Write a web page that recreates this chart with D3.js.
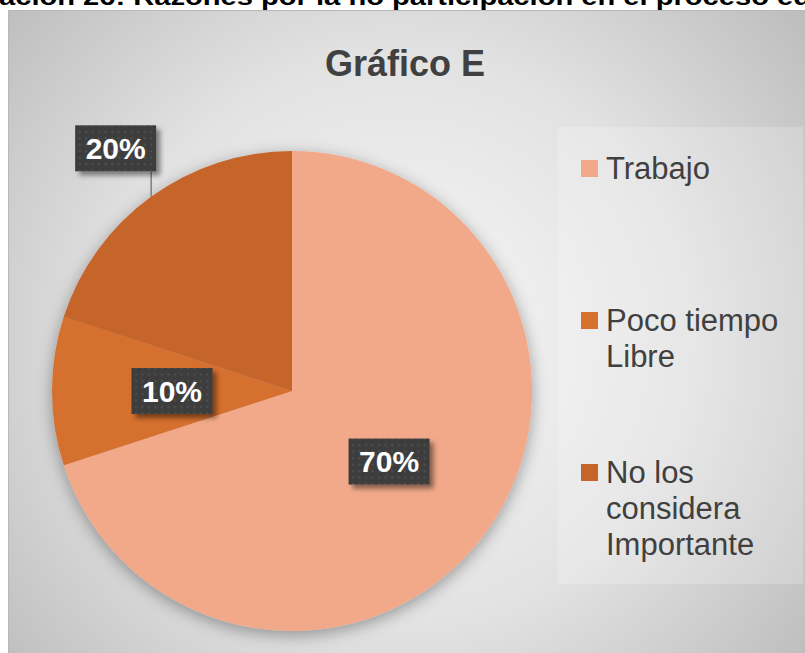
<!DOCTYPE html>
<html>
<head>
<meta charset="utf-8">
<script src="https://cdn.jsdelivr.net/npm/d3@7"></script>
<style>
  body { margin: 0; background: #ffffff; }
  svg { display: block; }
</style>
</head>
<body>
<div id="chart"></div>
<script>
(function() {
    'use strict';

    // data
    var categories = ["Trabajo", "Poco tiempo Libre", "No los considera Importante"];
    var values = [70, 10, 20];
    var valueLabels = ["70%", "10%", "20%"];
    var colors = ["#F2A98A", "#D6702D", "#C5652A"];
    var chartTitle = "Gráfico E";
    var captionText = "ación 26: Razones por la no participación en el proceso ed";

    var width = 805, height = 653;
    var cx = 292, cy = 391, radius = 240;
    var labelRadius = [0.5, 0.5, 1.25];   // 20% label was dragged outside in the original

    var svg = d3.select("#chart").append("svg")
        .attr("width", width)
        .attr("height", height);

    var defs = svg.append("defs");

    var bg = defs.append("radialGradient")
        .attr("id", "bgGrad")
        .attr("gradientUnits", "userSpaceOnUse")
        .attr("cx", 400).attr("cy", 340).attr("r", 520);
    bg.append("stop").attr("offset", "0%").attr("stop-color", "#f8f8f8");
    bg.append("stop").attr("offset", "55%").attr("stop-color", "#e2e2e2");
    bg.append("stop").attr("offset", "100%").attr("stop-color", "#bdbdbd");

    var pieShadow = defs.append("filter").attr("id", "pieShadow")
        .attr("x", "-20%").attr("y", "-20%").attr("width", "140%").attr("height", "140%");
    pieShadow.append("feDropShadow")
        .attr("dx", 0).attr("dy", 4).attr("stdDeviation", 8)
        .attr("flood-color", "#000").attr("flood-opacity", 0.35);

    var boxShadow = defs.append("filter").attr("id", "boxShadow")
        .attr("x", "-20%").attr("y", "-20%").attr("width", "150%").attr("height", "150%");
    boxShadow.append("feDropShadow")
        .attr("dx", 4).attr("dy", 4).attr("stdDeviation", 2.5)
        .attr("flood-color", "#000").attr("flood-opacity", 0.45);

    var dots = defs.append("pattern")
        .attr("id", "dots")
        .attr("patternUnits", "userSpaceOnUse")
        .attr("width", 6.5).attr("height", 6.5);
    dots.append("rect").attr("width", 6.5).attr("height", 6.5).attr("fill", "#3e3e3e");
    dots.append("circle").attr("cx", 3).attr("cy", 3).attr("r", 1).attr("fill", "#555");

    // caption above the chart, clipped by the page edge
    svg.append("text")
        .attr("x", -1)
        .attr("y", 5)
        .style("font", "bold 23px 'Liberation Sans', Arial, sans-serif")
        .attr("fill", "#000")
        .attr("textLength", 812)
        .attr("lengthAdjust", "spacingAndGlyphs")
        .text(captionText);

    // chart area
    svg.append("rect")
        .attr("x", 8.5).attr("y", 10.5)
        .attr("width", width).attr("height", height)
        .attr("fill", "url(#bgGrad)")
        .attr("stroke", "#b8b8b8")
        .attr("stroke-width", 1);

    svg.append("text")
        .attr("x", 405)
        .attr("y", 76)
        .attr("text-anchor", "middle")
        .style("font", "bold 36px 'Liberation Sans', Arial, sans-serif")
        .attr("fill", "#404040")
        .text(chartTitle);

    // legend panel
    svg.append("rect")
        .attr("x", 558).attr("y", 127)
        .attr("width", 245).attr("height", 457)
        .attr("fill", "#ffffff")
        .attr("fill-opacity", 0.2);

    var pie = d3.pie().sort(null).value(d => d);
    var arcs = pie(values);
    var arcGen = d3.arc().innerRadius(0).outerRadius(radius);

    var g = svg.append("g").attr("transform", "translate(" + cx + "," + cy + ")");

    g.append("g")
        .attr("filter", "url(#pieShadow)")
        .selectAll("path")
        .data(arcs)
        .enter().append("path")
        .attr("d", arcGen)
        .attr("fill", (d, i) => colors[i]);

    function midAngle(d) { return (d.startAngle + d.endAngle) / 2; }
    function polar(a, r) { return [Math.sin(a) * r, -Math.cos(a) * r]; }

    var boxW = 81, boxH = 46;

    arcs.forEach(function(d, i) {
        var a = midAngle(d);
        var p = polar(a, radius * labelRadius[i]);
        if (labelRadius[i] > 1) {
            var edge = polar(a, radius);
            var lx = p[0] + boxW / 2 - 5;
            g.append("path")
                .attr("d", "M" + lx + "," + (p[1] + boxH / 2) + "V" + edge[1])
                .attr("stroke", "#7f7f7f")
                .attr("stroke-width", 1.5)
                .attr("fill", "none");
        }
        var lab = g.append("g").attr("transform", "translate(" + p[0] + "," + p[1] + ")");
        lab.append("rect")
            .attr("x", -boxW / 2).attr("y", -boxH / 2)
            .attr("width", boxW).attr("height", boxH)
            .attr("fill", "url(#dots)")
            .attr("filter", "url(#boxShadow)");
        lab.append("text")
            .attr("text-anchor", "middle")
            .attr("dy", "0.36em")
            .style("font", "bold 30px 'Liberation Sans', Arial, sans-serif")
            .attr("fill", "#ffffff")
            .text(valueLabels[i]);
    });

    // legend
    var legendX = 581, legendTop = 179, legendStep = 152, lineH = 36, wrapW = 195;
    var legend = svg.selectAll(".legend")
        .data(categories)
        .enter().append("g")
        .attr("class", "legend")
        .attr("transform", (d, i) => "translate(" + legendX + "," + (legendTop + i * legendStep) + ")");

    legend.append("rect")
        .attr("x", 0).attr("y", -19)
        .attr("width", 17).attr("height", 17)
        .attr("fill", (d, i) => colors[i]);

    legend.append("text")
        .attr("x", 25)
        .style("font", "31px 'Liberation Sans', Arial, sans-serif")
        .attr("fill", "#404040")
        .each(function(d) {
            var t = d3.select(this);
            var words = d.split(" ");
            var line = [];
            var lineNo = 0;
            var ts = t.append("tspan").attr("x", 25).attr("y", 0);
            words.forEach(function(w) {
                line.push(w);
                ts.text(line.join(" "));
                if (ts.node().getComputedTextLength() > wrapW && line.length > 1) {
                    line.pop();
                    ts.text(line.join(" "));
                    line = [w];
                    lineNo++;
                    ts = t.append("tspan").attr("x", 25).attr("y", lineNo * lineH).text(w);
                }
            });
        });
})();
</script>
</body>
</html>
